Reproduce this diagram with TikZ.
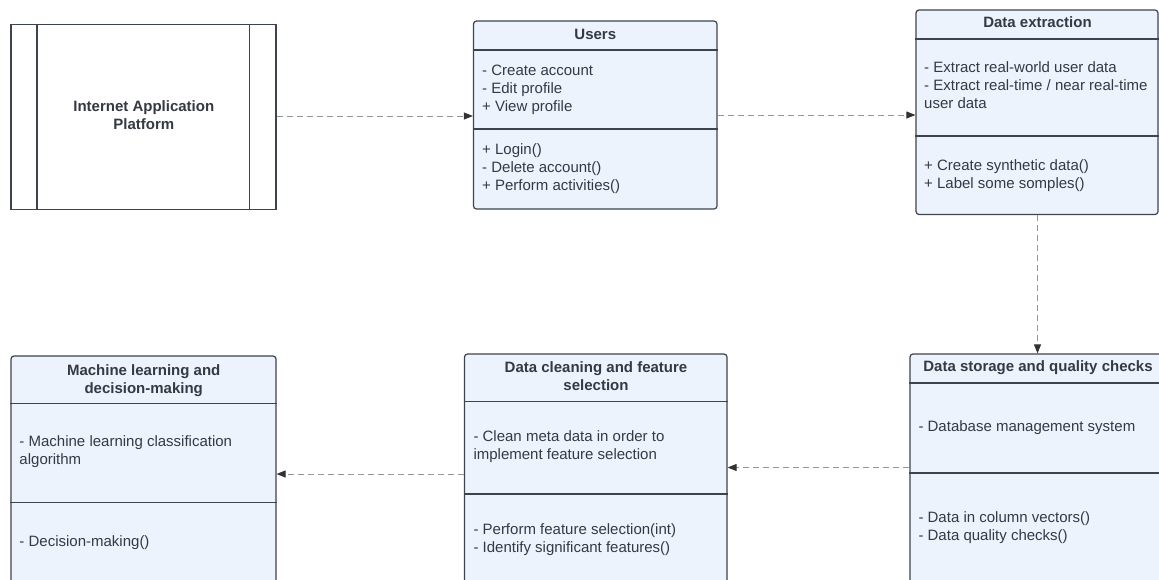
\documentclass[tikz,border=0pt]{standalone}
\usepackage{fontspec}
\setmainfont{Liberation Sans}
\usetikzlibrary{arrows.meta}
\definecolor{boxfill}{RGB}{237,243,252}
\definecolor{boxdraw}{RGB}{62,68,77}
\definecolor{boxtext}{RGB}{52,58,66}
\definecolor{flowgray}{RGB}{150,150,150}
\definecolor{tipgray}{RGB}{50,50,50}

\begin{document}
\begin{tikzpicture}[x=1pt,y=-1pt,
  classbox/.style={draw=boxdraw,line width=1.2pt,fill=boxfill,rounded corners=3pt,inner sep=0pt},
  platbox/.style={draw=boxdraw,line width=1.2pt,fill=white,inner sep=0pt},
  divider/.style={draw=boxdraw,line width=1.2pt},
  title/.style={font=\fontsize{15}{18}\selectfont\bfseries,text=boxtext,align=center,anchor=north,inner sep=0pt,yshift=12.6pt},
  members/.style={font=\fontsize{15}{18}\selectfont,text=boxtext,align=left,anchor=north west,inner sep=0pt,yshift=12.6pt},
  flow/.style={draw=flowgray,line width=1pt,dash pattern=on 6pt off 4pt,-{Triangle[length=9pt,width=7pt,color=tipgray,sep=0pt]}}]
\useasboundingbox (0,0) rectangle (1159,579);
\node[platbox,minimum width=265pt,minimum height=185pt] (platform) at (143.5,117) {};
\draw[divider] (37,24.5) -- (37,209.5);
\draw[divider] (249.5,24.5) -- (249.5,209.5);
\node[title] (platformtext) at (143.8,111) {\strut Internet Application\\Platform};
\node[classbox,minimum width=243.5pt,minimum height=188pt] (users) at (595.25,115) {};
\draw[divider] (users.west |- 0,50) -- (users.east |- 0,50);
\draw[divider] (users.west |- 0,129) -- (users.east |- 0,129);
\node[title] (userstitle) at (595.3,39.5) {\strut Users};
\node[members] (usersattr) at (482,75) {\strut - Create account\\- Edit profile\\+ View profile};
\node[members] (usersops) at (482,154) {\strut + Login()\\- Delete account()\\+ Perform activities()};
\node[classbox,minimum width=242pt,minimum height=204.5pt] (extract) at (1037,112.25) {};
\draw[divider] (extract.west |- 0,39) -- (extract.east |- 0,39);
\draw[divider] (extract.west |- 0,136) -- (extract.east |- 0,136);
\node[title] (extracttitle) at (1037.5,27.7) {\strut Data extraction};
\node[members] (extractattr) at (924,72.7) {\strut - Extract real-world user data\\- Extract real-time / near real-time\\user data};
\node[members] (extractops) at (924,170) {\strut + Create synthetic data()\\+ Label some somples()};
\node[classbox,minimum width=256pt,minimum height=246pt] (storage) at (1038,477) {};
\draw[divider] (storage.west |- 0,383) -- (storage.east |- 0,383);
\draw[divider] (storage.west |- 0,473) -- (storage.east |- 0,473);
\node[title] (storagetitle) at (1038,371.7) {\strut Data storage and quality checks};
\node[members] (storageattr) at (918.3,431.7) {\strut - Database management system};
\node[members] (storageops) at (918.3,522.7) {\strut - Data in column vectors()\\- Data quality checks()};
\node[classbox,minimum width=262.5pt,minimum height=246pt] (cleaning) at (595.75,477) {};
\draw[divider] (cleaning.west |- 0,401.7) -- (cleaning.east |- 0,401.7);
\draw[divider] (cleaning.west |- 0,494) -- (cleaning.east |- 0,494);
\node[title] (cleaningtitle) at (596,372.3) {\strut Data cleaning and feature\\selection};
\node[members] (cleaningattr) at (473.3,441.7) {\strut - Clean meta data in order to\\implement feature selection};
\node[members] (cleaningops) at (473.3,534) {\strut - Perform feature selection(int)\\- Identify significant features()};
\node[classbox,minimum width=265pt,minimum height=244pt] (ml) at (143.5,478) {};
\draw[divider] (ml.west |- 0,403.3) -- (ml.east |- 0,403.3);
\draw[divider] (ml.west |- 0,502.7) -- (ml.east |- 0,502.7);
\node[title] (mltitle) at (143.7,375) {\strut Machine learning and\\decision-making};
\node[members] (mlattr) at (19.3,446.7) {\strut - Machine learning classification\\algorithm};
\node[members] (mlops) at (19.3,546.7) {\strut - Decision-making()};
\draw[flow] ([yshift=1pt]platform.east) -- ([yshift=1pt]platform.east -| users.west);
\draw[flow] (users.east) -- (users.east -| extract.west);
\draw[flow] ([xshift=0.5pt]extract.south) -- ([xshift=0.5pt]extract.south |- storage.north);
\draw[flow] ([yshift=9.5pt]storage.west) -- ([yshift=9.5pt]storage.west -| cleaning.east);
\draw[flow] ([yshift=3pt]cleaning.west) -- ([yshift=3pt]cleaning.west -| ml.east);
\end{tikzpicture}
\end{document}
